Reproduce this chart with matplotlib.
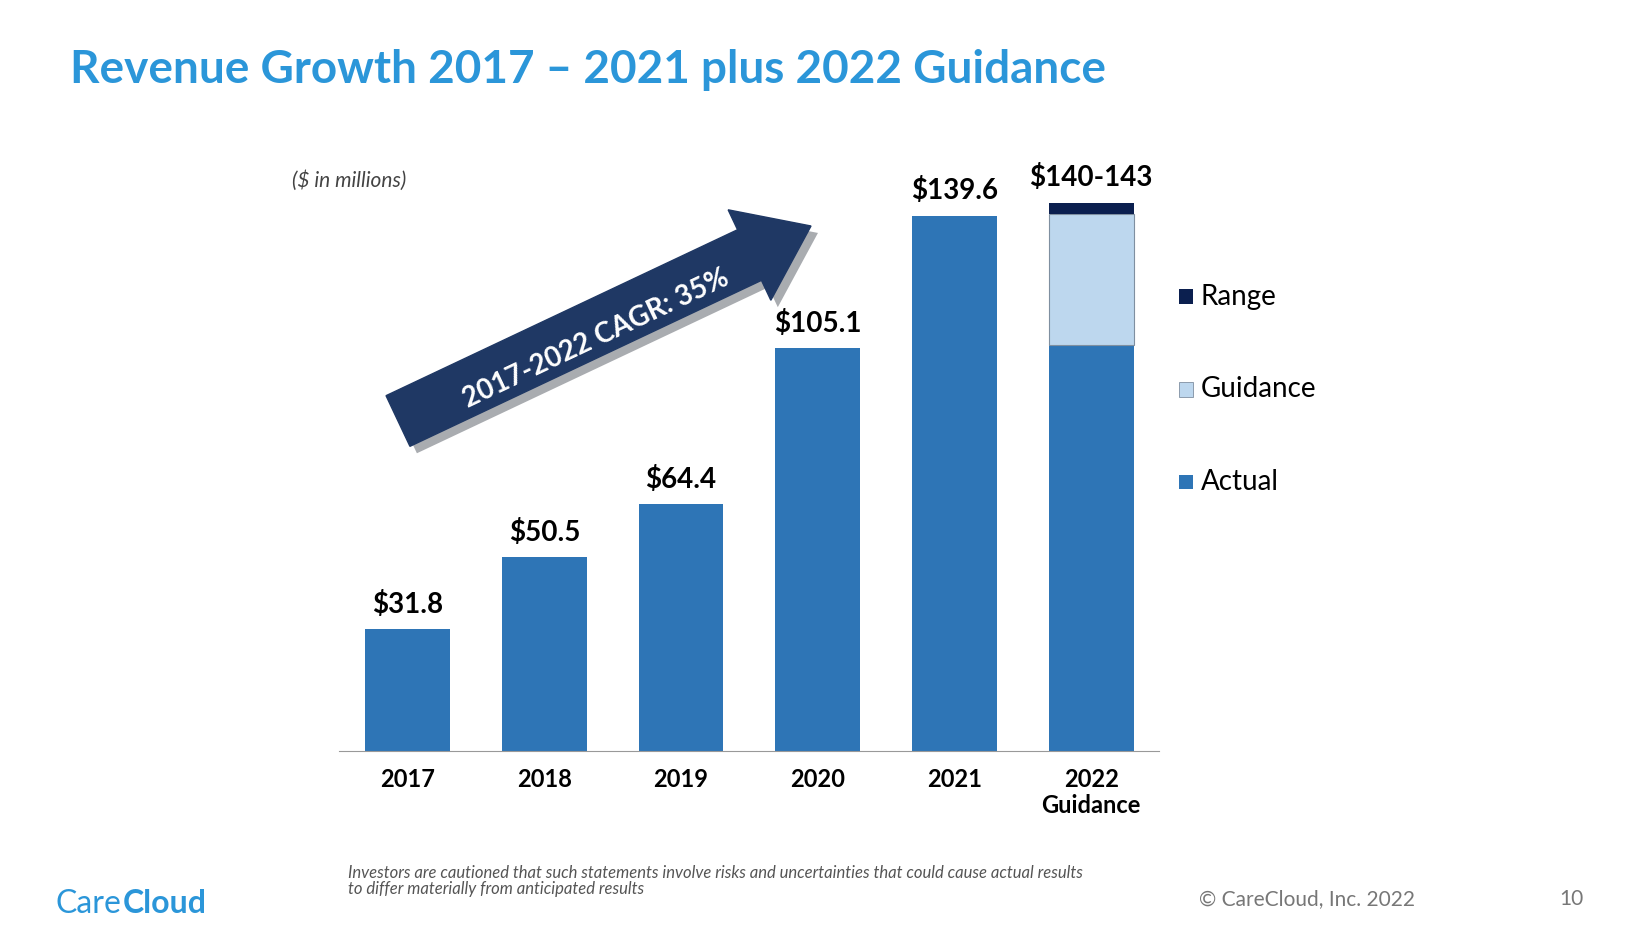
import matplotlib.pyplot as plt
from matplotlib.patches import FancyArrow, Rectangle
import matplotlib.patheffects as pe
from matplotlib.transforms import IdentityTransform

plt.rcParams['font.family'] = ['Lato', 'DejaVu Sans']

years = ['2017', '2018', '2019', '2020', '2021', '2022\nGuidance']
actual = [31.8, 50.5, 64.4, 105.1, 139.6, 106.0]
guidance = [0, 0, 0, 0, 0, 34.0]
range_part = [0, 0, 0, 0, 0, 3.0]
labels = ['$31.8', '$50.5', '$64.4', '$105.1', '$139.6', '$140-143']

c_act = '#2e75b6'
c_gui = '#bdd7ee'
c_rng = '#0b1f4f'

fig = plt.figure(figsize=(16.47, 9.27), dpi=100)
ax = fig.add_axes([0.206, 0.190, 0.498, 0.62])
x = range(len(years))
ax.bar(x, actual, width=0.62, color=c_act)
ax.bar(x, guidance, width=0.62, bottom=actual, color=c_gui,
       edgecolor=['none'] * 5 + ['#7f8fa0'], linewidth=0.8)
tops = [a + g for a, g in zip(actual, guidance)]
ax.bar(x, range_part, width=0.62, bottom=tops, color=c_rng)
for i, lab in enumerate(labels):
    top = actual[i] + guidance[i] + range_part[i]
    ax.text(i, top + 3, lab, ha='center', va='bottom', fontsize=20, fontweight='bold')
ax.set_xlim(-0.5, 5.5)
ax.set_ylim(0, 150)
ax.set_xticks(list(x))
ax.set_xticklabels(years, fontsize=17, fontweight='bold', linespacing=1.2)
ax.tick_params(axis='x', length=0, pad=12)
ax.set_yticks([])
for s in ['top', 'right', 'left']:
    ax.spines[s].set_visible(False)
ax.spines['bottom'].set_color('#999999')

# CAGR arrow, drawn in pixels so it keeps its shape
x0, y0, x1, y1 = 398, 506, 811, 701
arr = FancyArrow(x0, y0, x1 - x0, y1 - y0, width=56, head_width=100, head_length=68,
                 length_includes_head=True, color='#1f3864', transform=IdentityTransform(),
                 zorder=1,
                 path_effects=[pe.SimplePatchShadow(offset=(5, -5), alpha=0.35), pe.Normal()])
fig.patches.append(arr)
fig.text(0.362, 0.635, '2017-2022 CAGR: 35%', rotation=25.3, color='white', fontsize=20,
         fontweight='bold', ha='center', va='center', rotation_mode='anchor', zorder=5)

fig.text(0.0425, 0.925, 'Revenue Growth 2017 – 2021 plus 2022 Guidance', fontsize=33,
         fontweight='bold', color='#2b96d9', va='center')
fig.text(0.177, 0.805, '($ in millions)', fontsize=15, style='italic', color='#444444', va='center')

# legend
for y, name, col in [(0.68, 'Range', c_rng), (0.58, 'Guidance', c_gui), (0.48, 'Actual', c_act)]:
    fig.patches.append(Rectangle((0.716, y - 0.008), 0.0085, 0.016, transform=fig.transFigure,
                                 facecolor=col, edgecolor='#7f8fa0' if col == c_gui else 'none',
                                 linewidth=0.6))
    fig.text(0.729, y, name, fontsize=20, va='center')

fig.text(0.211, 0.05, 'Investors are cautioned that such statements involve risks and uncertainties that could cause actual results\nto differ materially from anticipated results',
         fontsize=12, style='italic', color='#555555', va='center', linespacing=1.0)
fig.text(0.034, 0.025, 'Care', fontsize=23, color='#2b96d9', va='center')
fig.text(0.0745, 0.025, 'Cloud', fontsize=23, color='#2b96d9', fontweight='bold', va='center')
fig.text(0.728, 0.03, '© CareCloud, Inc. 2022', fontsize=15, color='#777777', va='center')
fig.text(0.947, 0.03, '10', fontsize=15, color='#777777', va='center')

fig.savefig('out.png', dpi=100)
